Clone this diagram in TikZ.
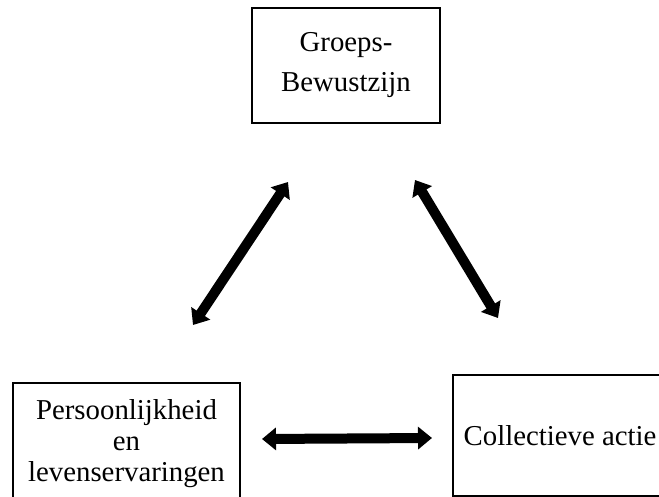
\documentclass[tikz,border=0pt]{standalone}
\usepackage{fontspec}
\setmainfont{Liberation Serif}
\usetikzlibrary{arrows.meta}
\begin{document}
\begin{tikzpicture}[x=1pt,y=-1pt,
  box/.style={draw=black,line width=2pt,align=center,inner sep=0pt,font=\fontsize{28.8}{31}\selectfont},
  dblarrow/.style={line width=10pt,{Triangle[width=22pt,length=14pt]}-{Triangle[width=22pt,length=14pt]}}]
\useasboundingbox (0,0) rectangle (659,497);
\clip (0,0) rectangle (659,497);
\fill[white] (0,0) rectangle (659,497);
\node[box,minimum width=188pt,minimum height=115pt,font=\fontsize{28.8}{40}\selectfont] (top) at (346,65.5) {Groeps-\\Bewustzijn};
\node[box,minimum width=227pt,minimum height=122pt] (left) at (126.5,444) {Persoonlijkheid\\en\\levenservaringen};
\node[box,minimum width=214pt,minimum height=121pt,anchor=west] (right) at (452,435.5) {Collectieve actie};
\coordinate (l1) at (193,325);
\coordinate (l2) at (288,182);
\coordinate (r1) at (415,180);
\coordinate (r2) at (498,318);
\coordinate (h1) at (262,439);
\coordinate (h2) at (432,438);
\draw[dblarrow] (l1) -- (l2);
\draw[dblarrow] (r1) -- (r2);
\draw[dblarrow] (h1) -- (h2);
\end{tikzpicture}
\end{document}
